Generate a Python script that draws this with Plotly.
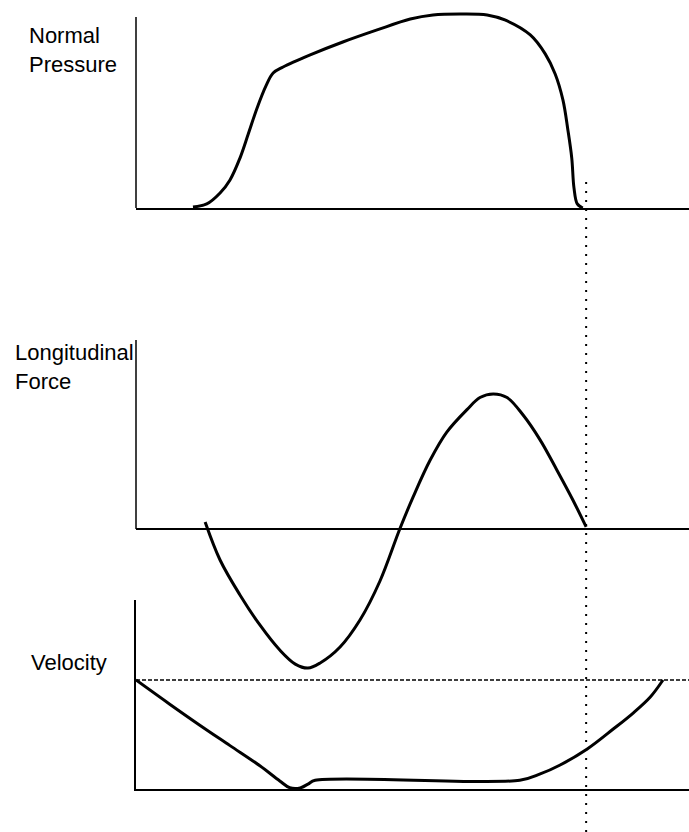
import plotly.graph_objects as go

# ---- data (time axis 0..100, arbitrary units) ----
pressure_t = [10.3, 12.8, 15.2, 17.0, 18.8, 20.3, 21.9, 23.5, 24.8, 26.6, 31.5, 37.4, 43.6,
              49.6, 53.7, 58.6, 63.5, 66.7, 71.3, 74.0, 75.8, 77.2, 78.1, 78.8, 79.2, 79.8, 80.8]
pressure_v = [0.5, 2.1, 7.7, 14.4, 25.6, 37.9, 51.3, 62.6, 69.2, 72.3, 78.5, 85.1, 91.3,
              96.9, 99.0, 99.5, 99.0, 96.4, 88.7, 79.0, 68.7, 55.4, 40.0, 25.6, 10.3, 2.1, 0.0]

force_t = [12.5, 15.2, 18.8, 22.4, 26.0, 28.8, 31.1, 33.3, 36.9, 40.5, 44.1, 47.7,
           50.1, 53.2, 56.2, 59.9, 62.2, 64.6, 67.1, 70.0, 73.1, 76.1, 79.0, 81.4]
force_v = [3.7, -16.3, -34.7, -50.5, -63.7, -71.1, -73.2, -70.5, -62.1, -47.9, -27.5, 0.0,
           16.8, 36.3, 51.0, 63.0, 69.2, 71.1, 69.2, 60.0, 46.8, 31.1, 15.3, 1.1]

velocity_t = [0.0, 6.1, 11.6, 17.0, 22.4, 26.0, 27.8, 29.7, 31.1, 32.4, 69.4, 73.1, 76.7,
              81.6, 86.3, 89.9, 93.0, 95.3]
velocity_v = [10.0, 7.78, 5.83, 3.98, 2.13, 0.74, 0.12, 0.1, 0.45, 0.8, 0.8, 1.38, 2.20,
              3.67, 5.50, 6.97, 8.44, 10.0]

initial_velocity = 10.0
event_time = 81.4

labels = ["Normal<br>Pressure", "Longitudinal<br>Force", "Velocity"]

W, H = 689, 832
def fy(py):
    return 1 - py / H

xdom = [136 / W, 1.0]
font = dict(family="Liberation Sans, Arial, sans-serif", size=22, color="black")

fig = go.Figure()
line = dict(color="black", width=3, shape="spline", smoothing=1.0)
fig.add_trace(go.Scatter(x=pressure_t, y=pressure_v, mode="lines", line=line, xaxis="x", yaxis="y", hoverinfo="skip"))
fig.add_trace(go.Scatter(x=force_t, y=force_v, mode="lines", line=line, xaxis="x2", yaxis="y2", hoverinfo="skip"))
fig.add_trace(go.Scatter(x=velocity_t, y=velocity_v, mode="lines", line=line, xaxis="x3", yaxis="y3", hoverinfo="skip"))

ax_common = dict(showticklabels=False, showgrid=False, ticks="", zeroline=False)
fig.update_layout(
    width=W, height=H,
    margin=dict(l=0, r=0, t=0, b=0),
    paper_bgcolor="white", plot_bgcolor="rgba(0,0,0,0)",
    showlegend=False,
    xaxis=dict(domain=xdom, range=[0, 100], anchor="y", showline=True, linecolor="black", linewidth=2, **ax_common),
    yaxis=dict(domain=[fy(208), fy(11)], range=[0, 101], anchor="x", showline=False, **ax_common),
    xaxis2=dict(domain=xdom, range=[0, 100], anchor="y2", showline=False, **ax_common),
    yaxis2=dict(domain=[fy(681), fy(340)], range=[-80, 99.5], anchor="x2", showline=False,
                showticklabels=False, showgrid=False, ticks="",
                zeroline=True, zerolinecolor="black", zerolinewidth=2),
    xaxis3=dict(domain=xdom, range=[0, 100], anchor="y3", showline=True, linecolor="black", linewidth=2, **ax_common),
    yaxis3=dict(domain=[fy(789), fy(600)], range=[0, 17.34], anchor="x3", showline=True, linecolor="black", linewidth=1.5, **ax_common),
)

# top panel vertical axis
fig.add_shape(type="line", xref="x domain", x0=0, x1=0, yref="y", y0=0, y1=97.9,
              line=dict(color="black", width=1.5))
# middle panel vertical axis (only above zero)
fig.add_shape(type="line", xref="x2 domain", x0=0, x1=0, yref="y2", y0=0, y1=99.5,
              line=dict(color="black", width=1.5))
# dashed initial-velocity reference
fig.add_shape(type="line", xref="x3 domain", x0=0, x1=1, yref="y3", y0=initial_velocity, y1=initial_velocity,
              line=dict(color="black", width=1.5, dash="4px,2px"))
# dotted event line
fig.add_shape(type="line", xref="x", x0=event_time, x1=event_time, yref="paper", y0=0, y1=fy(177),
              line=dict(color="black", width=2, dash="2px,7px"))

label_pos = [(27, 21), (13, 338), (29, 648)]
for txt, (px, py) in zip(labels, label_pos):
    fig.add_annotation(text=txt, xref="paper", yref="paper", x=px / W, y=fy(py),
                       xanchor="left", yanchor="top", align="left", showarrow=False, font=font)

fig.write_html("out.html", config={"displayModeBar": False},
               post_script="document.body.style.margin='0';document.body.style.overflow='hidden';")
